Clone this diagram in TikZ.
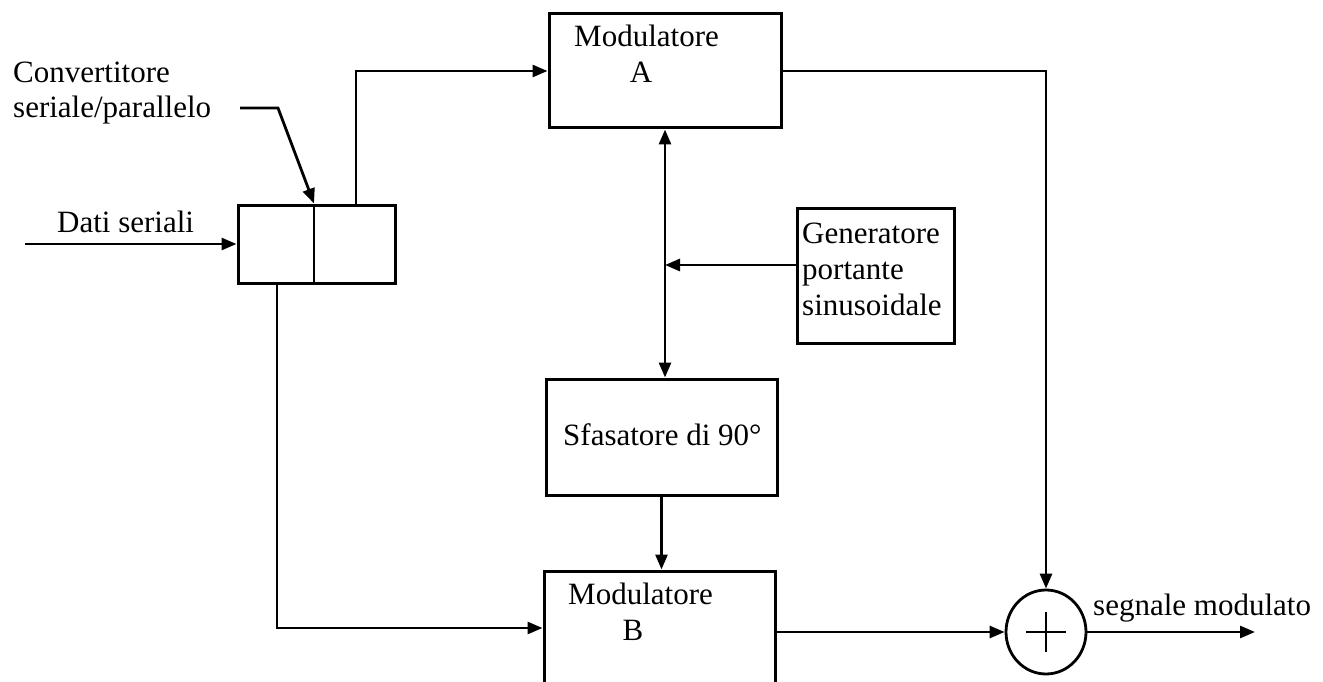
\documentclass[tikz,border=0pt]{standalone}
\usepackage{fontspec}
\setmainfont{Liberation Serif}
\usetikzlibrary{arrows.meta,calc,shapes.geometric}
\begin{document}
\begin{tikzpicture}[x=1pt,y=-1pt,
  font=\fontsize{31}{36}\selectfont,
  box/.style={draw,line width=3pt,inner sep=0pt},
  wire/.style={line width=2.8pt},
  arr/.style={wire,-{Triangle[length=15pt,width=12pt]}},
  darr/.style={wire,{Triangle[length=15pt,width=12pt]}-{Triangle[length=15pt,width=12pt]}},
  lbl/.style={inner sep=0pt,anchor=base west},
  clbl/.style={inner sep=0pt,anchor=base}]
\useasboundingbox (0,0) rectangle (1323,682);
\clip (0,0) rectangle (1323,682);
\fill[white] (0,0) rectangle (1323,682);

% helper coordinates
\coordinate (dv) at (314,0);
\coordinate (upx) at (356,0);
\coordinate (dnx) at (277,0);
\coordinate (din) at (25,244);
\coordinate (gy) at (0,265);
\coordinate (bin) at (0,628);
\coordinate (out) at (1255,632);
\coordinate (lead) at (240,108);
\coordinate (leadk) at (278,108);

% blocks
\node[box,minimum width=157pt,minimum height=78pt] (conv) at (316.5,244) {};
\node[box,minimum width=232pt,minimum height=114pt] (A) at (665,71) {};
\node[box,minimum width=231pt,minimum height=116pt] (S) at (661.5,437) {};
\node[box,minimum width=157pt,minimum height=135pt] (G) at (875.5,275.5) {};
\node[box,minimum width=231pt,minimum height=150pt] (B) at (659.5,646) {};
\node[draw,line width=2.8pt,ellipse,inner sep=0pt,minimum width=80pt,minimum height=84pt] (C) at (1046,632) {};

% divider of the converter and plus sign
\draw[wire] (conv.north -| dv) -- (conv.south -| dv);
\draw[wire] ($(C.center)+(-20,0)$) -- ($(C.center)+(20,0)$);
\draw[wire] ($(C.center)+(0,-20)$) -- ($(C.center)+(0,20)$);

% connectors
\draw[arr] (din) -- (conv.west);
\draw[arr] (lead) -- (leadk) -- (conv.north -| dv);
\draw[arr] (conv.north -| upx) |- (A.west);
\draw[arr] (conv.south -| dnx) |- (B.west |- bin);
\draw[arr] (A.east) -| (C.north);
\draw[arr] (B.east |- C.west) -- (C.west);
\draw[arr] (C.east) -- (out);
\draw[darr] (A.south) -- (A.south |- S.north);
\draw[arr] (G.west |- gy) -- (A.south |- gy);
\draw[arr] (S.south) -- (S.south |- B.north);

% texts
\node[lbl] (tconv) at (13,83) {Convertitore};
\node[lbl] (tconv2) at (13,118) {seriale/parallelo};
\node[lbl] (tdati) at (57,232) {Dati seriali};
\node[lbl] (tmodA) at (574,47) {Modulatore};
\node[clbl] (tA) at (641,83) {A};
\node[lbl] (tmodB) at (568,604) {Modulatore};
\node[clbl] (tB) at (633,640) {B};
\node[lbl] (tS) at (563,445) {Sfasatore di 90°};
\node[lbl] (tG1) at (802,243) {Generatore};
\node[lbl] (tG2) at (802,279) {portante};
\node[lbl] (tG3) at (802,315) {sinusoidale};
\node[lbl] (tout) at (1093,615) {segnale modulato};
\end{tikzpicture}
\end{document}
